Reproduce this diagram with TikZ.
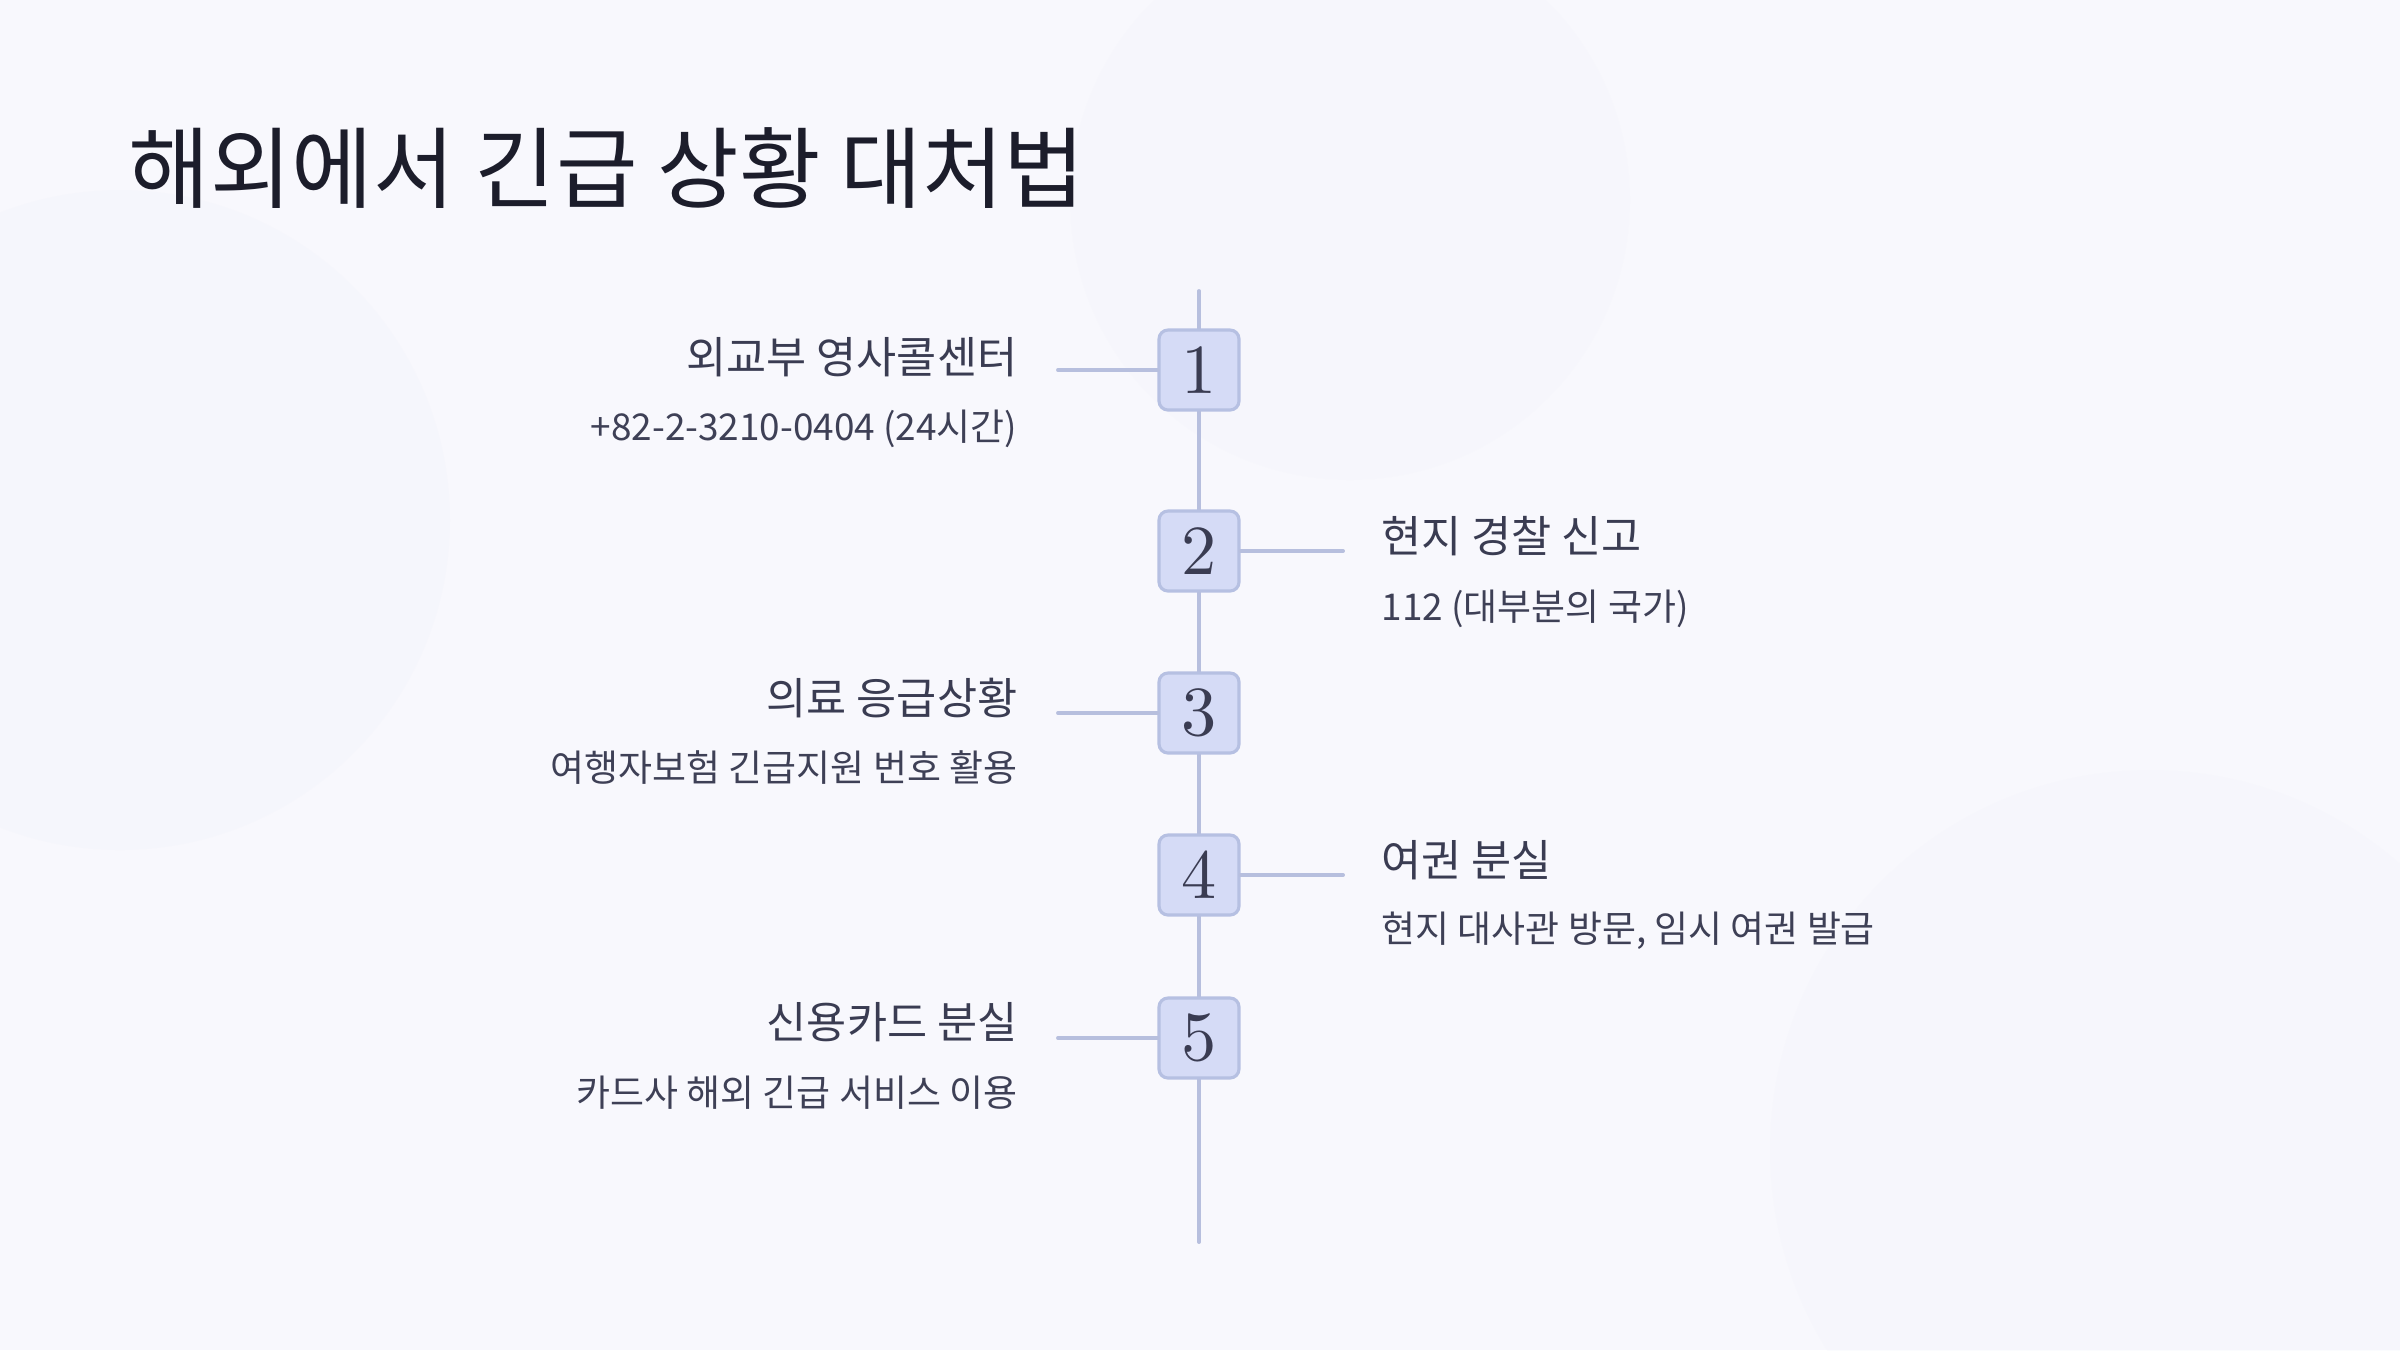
\documentclass[tikz,border=0pt]{standalone}
\usepackage{fontspec}
\setmainfont{Noto Sans CJK KR}
\newfontfamily\numfont{lmroman10-regular.otf}
\definecolor{bg}{HTML}{F8F8FD}
\definecolor{blob}{HTML}{F1F2FA}
\definecolor{titlec}{HTML}{1C1D2B}
\definecolor{headc}{HTML}{3A3C52}
\definecolor{subc}{HTML}{3E4056}
\definecolor{linec}{HTML}{B7BFDE}
\definecolor{boxfill}{HTML}{D5DBF6}
\definecolor{boxdraw}{HTML}{B6C0E2}
\definecolor{numc}{HTML}{3A3C52}
\tikzset{
  stepbox/.style={draw=boxdraw, line width=0.9pt, fill=boxfill, rounded corners=9*0.01cm,
    minimum width=80*0.01cm, minimum height=80*0.01cm, inner sep=0pt,
    font=\numfont\fontsize{20}{20}\selectfont, text=numc},
  conn/.style={draw=linec, line width=1.1pt, line cap=round},
  headl/.style={font=\fontsize{12.4}{14}\selectfont, text=headc, inner sep=0pt},
  subl/.style={font=\fontsize{10.5}{12}\selectfont, text=subc, inner sep=0pt},
}
\begin{document}
\begin{tikzpicture}[x=0.01cm,y=-0.01cm]
\fill[bg] (0,0) rectangle (2400,1350);
\useasboundingbox (0,0) rectangle (2400,1350);
\fill[blob, opacity=0.3] (120,520) circle (330);
\fill[blob, opacity=0.25] (2150,1150) circle (380);
\fill[blob, opacity=0.2] (1350,200) circle (280);

\node[anchor=west, inner sep=0pt, text=titlec, font=\fontsize{25.2}{28}\selectfont] (title) at (128,168) {해외에서 긴급 상황 대처법};

\coordinate (top) at (1199,291);
\coordinate (bot) at (1199,1242);
\draw[conn] (top) -- (bot);

\node[stepbox] (b1) at (1199,370) {1};
\node[stepbox] (b2) at (1199,551) {2};
\node[stepbox] (b3) at (1199,713) {3};
\node[stepbox] (b4) at (1199,875) {4};
\node[stepbox] (b5) at (1199,1038) {5};

\coordinate (c1) at (1058,370);
\coordinate (c2) at (1343,551);
\coordinate (c3) at (1058,713);
\coordinate (c4) at (1343,875);
\coordinate (c5) at (1058,1038);
\draw[conn] (b1.west) -- (c1);
\draw[conn] (b2.east) -- (c2);
\draw[conn] (b3.west) -- (c3);
\draw[conn] (b4.east) -- (c4);
\draw[conn] (b5.west) -- (c5);

\node[headl, anchor=east] (h1) at (1018,357) {외교부 영사콜센터};
\node[subl, anchor=east] (s1) at (1018,429) {+82-2-3210-0404 (24시간)};
\node[headl, anchor=west] (h2) at (1381,536) {현지 경찰 신고};
\node[subl, anchor=west] (s2) at (1381,609) {112 (대부분의 국가)};
\node[headl, anchor=east] (h3) at (1018,698) {의료 응급상황};
\node[subl, anchor=east] (s3) at (1018,768) {여행자보험 긴급지원 번호 활용};
\node[headl, anchor=west] (h4) at (1381,860) {여권 분실};
\node[subl, anchor=west] (s4) at (1381,931) {현지 대사관 방문, 임시 여권 발급};
\node[headl, anchor=east] (h5) at (1018,1022) {신용카드 분실};
\node[subl, anchor=east] (s5) at (1018,1093) {카드사 해외 긴급 서비스 이용};
\end{tikzpicture}
\end{document}
